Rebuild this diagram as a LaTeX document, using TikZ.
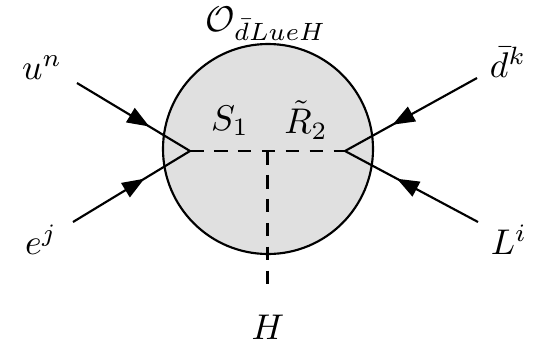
\documentclass[tikz,border=0pt]{standalone}
\usetikzlibrary{arrows.meta,decorations.markings}
\definecolor{blobgray}{RGB}{224,224,224}
\tikzset{
  fermion/.style={line width=0.6pt,
    postaction={decorate},
    decoration={markings,mark=at position #1 with {\arrow{Triangle[length=6.2pt,width=4.6pt]}}}},
  scalar/.style={line width=0.6pt,dash pattern=on 3.8pt off 2.9pt},
  lbl/.style={inner sep=0pt}
}
\begin{document}
\begin{tikzpicture}[x=0.28pt,y=-0.28pt]
\useasboundingbox (0,0) rectangle (553,345);
\node[draw,circle,fill=blobgray,line width=0.6pt,minimum size=210*0.28pt,inner sep=0pt] (blob) at (268,149) {};
\coordinate (vl) at (190,151);
\coordinate (vr) at (345,151);
\coordinate (vm) at (267.5,151);
\coordinate (hend) at (267.5,293);
\coordinate (uin) at (77,83);
\coordinate (ein) at (73,222);
\coordinate (din) at (477,78);
\coordinate (Lin) at (478,222);
\draw[scalar] (vl) -- (vr);
\draw[scalar] (vm) -- (hend);
\draw[fermion=0.64] (uin) -- (vl);
\draw[fermion=0.61] (ein) -- (vl);
\draw[fermion=0.64] (din) -- (vr);
\draw[fermion=0.61] (Lin) -- (vr);
\node[lbl] (un) at (42,68) {$u^n$};
\node[lbl] (ej) at (41,240) {$e^j$};
\node[lbl] (dk) at (508,62) {$\bar d^k$};
\node[lbl] (Li) at (509,240) {$L^i$};
\node[lbl] (H) at (268,327) {$H$};
\node[lbl] (O) at (266,24) {$\mathcal{O}_{\bar dLueH}$};
\node[lbl] (S1) at (230,121) {$S_1$};
\node[lbl] (R2) at (306,120) {$\tilde R_2$};
\end{tikzpicture}
\end{document}
